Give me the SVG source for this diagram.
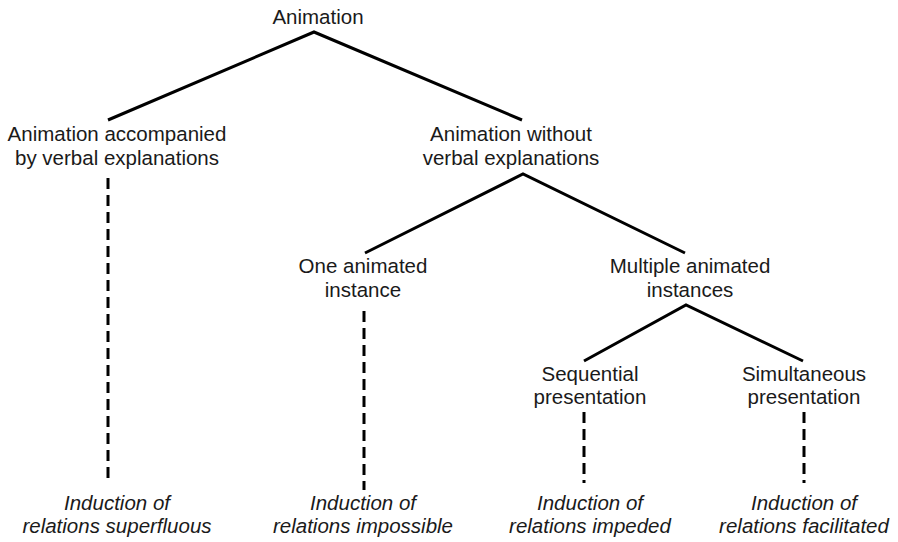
<svg xmlns="http://www.w3.org/2000/svg" width="898" height="542" viewBox="0 0 898 542">
<style>
text { font-family: "Liberation Sans", Arial, sans-serif; font-size: 20.5px; fill: #1a1a1a; text-anchor: middle; }
.it { font-style: italic; }
.solid { stroke: #000; stroke-width: 3; fill: none; }
.dash { stroke: #000; stroke-width: 3; fill: none; stroke-dasharray: 11 6; }
</style>
<rect width="898" height="542" fill="#fff"/>
<g id="connectors">
<polyline class="solid" points="108,120 314,32 522,120"/>
<polyline class="solid" points="365,253 523,174 685,253"/>
<polyline class="solid" points="584,361 686,305 803,361"/>
<line class="dash" x1="108" y1="178" x2="108" y2="482"/>
<line class="dash" x1="364" y1="311" x2="364" y2="490"/>
<line class="dash" x1="584" y1="412" x2="584" y2="483"/>
<line class="dash" x1="804" y1="412" x2="804" y2="483"/>
</g>
<g id="n-root"><text x="318" y="24">Animation</text></g>
<g id="n-accompanied"><text x="117" y="141">Animation accompanied</text><text x="117" y="165">by verbal explanations</text></g>
<g id="n-without"><text x="511" y="141">Animation without</text><text x="511" y="165">verbal explanations</text></g>
<g id="n-one"><text x="363" y="273">One animated</text><text x="363" y="297">instance</text></g>
<g id="n-multiple"><text x="690" y="273">Multiple animated</text><text x="690" y="297">instances</text></g>
<g id="n-sequential"><text x="590" y="381">Sequential</text><text x="590" y="404">presentation</text></g>
<g id="n-simultaneous"><text x="804" y="381">Simultaneous</text><text x="804" y="404">presentation</text></g>
<g id="n-superfluous"><text class="it" x="117" y="510">Induction of</text><text class="it" x="117" y="533">relations superfluous</text></g>
<g id="n-impossible"><text class="it" x="363" y="510">Induction of</text><text class="it" x="363" y="533">relations impossible</text></g>
<g id="n-impeded"><text class="it" x="590" y="510">Induction of</text><text class="it" x="590" y="533">relations impeded</text></g>
<g id="n-facilitated"><text class="it" x="804" y="510">Induction of</text><text class="it" x="804" y="533">relations facilitated</text></g>
</svg>
